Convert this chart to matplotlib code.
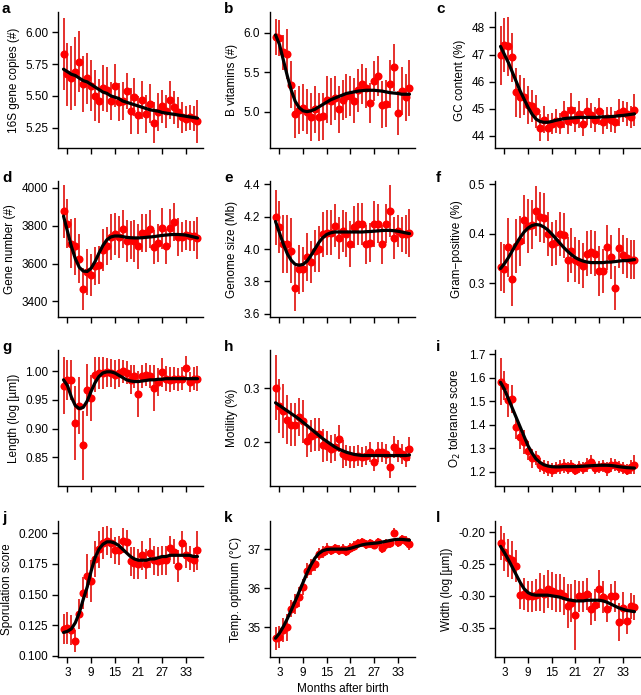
import numpy as np
import matplotlib
matplotlib.use('Agg')
import matplotlib.pyplot as plt
from matplotlib.ticker import FormatStrFormatter

plt.rcParams['font.family'] = ['Liberation Sans', 'DejaVu Sans']

# --- Data (one value per month after birth) ---
months = list(range(2, 37))
xticks = [3, 9, 15, 21, 27, 33]

# a: 16S gene copies
copies16s = [5.83, 5.67, 5.64, 5.69, 5.77, 5.59, 5.64, 5.58, 5.50, 5.46, 5.56, 5.55, 5.46, 5.58, 5.45,
             5.46, 5.54, 5.38, 5.49, 5.35, 5.47, 5.36, 5.44, 5.29, 5.37, 5.42, 5.38, 5.47, 5.41, 5.37,
             5.33, 5.32, 5.33, 5.32, 5.30]
copies16s_err = [0.28, 0.25, 0.25, 0.27, 0.24, 0.22, 0.20, 0.20, 0.20, 0.17, 0.18, 0.18, 0.15, 0.17, 0.15,
                 0.15, 0.14, 0.18, 0.15, 0.15, 0.15, 0.15, 0.15, 0.16, 0.15, 0.13, 0.13, 0.15, 0.13, 0.12,
                 0.12, 0.10, 0.10, 0.10, 0.17]
copies16s_fit = [5.71, 5.69, 5.67, 5.66, 5.64, 5.62, 5.61, 5.59, 5.57, 5.55, 5.53, 5.52, 5.50, 5.49, 5.48,
                 5.46, 5.45, 5.44, 5.43, 5.42, 5.41, 5.40, 5.39, 5.385, 5.38, 5.37, 5.365, 5.36, 5.355, 5.35,
                 5.345, 5.34, 5.335, 5.33, 5.325]

# b: B vitamins
bvit = [5.94, 5.93, 5.75, 5.73, 5.34, 4.97, 5.02, 5.05, 5.00, 4.93, 5.03, 4.93, 4.94, 5.15, 5.13,
        5.17, 5.03, 5.15, 5.20, 5.20, 5.14, 5.27, 5.35, 5.30, 5.11, 5.39, 5.45, 5.09, 5.10, 5.35,
        5.56, 4.98, 5.26, 5.18, 5.30]
bvit_err = [0.23, 0.23, 0.22, 0.32, 0.30, 0.30, 0.30, 0.30, 0.28, 0.30, 0.30, 0.30, 0.30, 0.30, 0.30,
            0.28, 0.30, 0.25, 0.28, 0.25, 0.28, 0.27, 0.25, 0.25, 0.25, 0.25, 0.25, 0.30, 0.30, 0.30,
            0.30, 0.28, 0.30, 0.30, 0.35]
bvit_fit = [5.97, 5.85, 5.65, 5.45, 5.27, 5.13, 5.05, 5.01, 5.00, 5.01, 5.03, 5.06, 5.09, 5.12, 5.15,
            5.17, 5.19, 5.21, 5.23, 5.24, 5.25, 5.26, 5.265, 5.27, 5.27, 5.27, 5.265, 5.26, 5.25, 5.24,
            5.235, 5.23, 5.22, 5.22, 5.22]

# c: GC content
gc = [46.97, 47.35, 47.30, 46.90, 45.60, 45.45, 45.45, 45.15, 45.10, 44.90, 44.30, 44.60, 44.30, 44.45, 44.55,
      44.45, 44.80, 44.55, 44.97, 44.60, 44.80, 44.45, 44.90, 44.75, 44.60, 44.90, 44.50, 44.65, 44.60, 44.50,
      44.85, 44.90, 44.80, 44.70, 44.95]
gc_err = [1.1, 1.0, 1.1, 0.9, 0.9, 0.8, 0.7, 0.7, 0.6, 0.6, 0.5, 0.5, 0.5, 0.4, 0.45,
          0.4, 0.5, 0.5, 0.6, 0.45, 0.5, 0.45, 0.5, 0.45, 0.45, 0.5, 0.45, 0.4, 0.45, 0.4,
          0.5, 0.4, 0.45, 0.4, 0.6]
gc_fit = [47.3, 47.0, 46.7, 46.35, 46.0, 45.65, 45.35, 45.05, 44.8, 44.62, 44.53, 44.5, 44.5, 44.53, 44.57,
          44.6, 44.63, 44.65, 44.66, 44.67, 44.68, 44.68, 44.68, 44.68, 44.68, 44.69, 44.7, 44.7, 44.71, 44.72,
          44.74, 44.75, 44.77, 44.79, 44.81]

# d: gene number
genes = [3875, 3810, 3705, 3690, 3625, 3465, 3555, 3540, 3585, 3590, 3670, 3690, 3740, 3755, 3740,
         3780, 3720, 3725, 3720, 3690, 3760, 3760, 3780, 3685, 3710, 3785, 3690, 3785, 3820, 3740,
         3740, 3750, 3745, 3745, 3735]
genes_err = [140, 130, 130, 150, 130, 110, 120, 110, 100, 100, 110, 100, 120, 110, 110,
             100, 110, 100, 110, 120, 100, 100, 100, 90, 100, 110, 90, 100, 100, 100,
             80, 80, 80, 80, 110]
genes_fit = [3850, 3770, 3690, 3625, 3580, 3560, 3558, 3575, 3610, 3655, 3695, 3725, 3740, 3745, 3745,
             3742, 3738, 3736, 3735, 3735, 3736, 3738, 3740, 3742, 3745, 3748, 3750, 3752, 3753, 3753,
             3752, 3750, 3745, 3740, 3735]

# e: genome size
gsize = [4.196, 4.135, 4.03, 4.03, 3.99, 3.757, 3.875, 3.875, 3.95, 3.92, 3.99, 4.00, 4.09, 4.10, 4.10,
         4.145, 4.07, 4.11, 4.09, 4.03, 4.135, 4.155, 4.155, 4.03, 4.04, 4.155, 4.155, 4.03, 4.155, 4.236,
         4.07, 4.11, 4.09, 4.09, 4.10]
gsize_err = [0.17, 0.16, 0.18, 0.18, 0.20, 0.14, 0.15, 0.14, 0.15, 0.13, 0.13, 0.14, 0.14, 0.14, 0.14,
             0.13, 0.13, 0.13, 0.14, 0.14, 0.13, 0.13, 0.13, 0.12, 0.12, 0.14, 0.12, 0.12, 0.12, 0.16,
             0.13, 0.10, 0.11, 0.12, 0.15]
gsize_fit = [4.17, 4.10, 4.03, 3.97, 3.93, 3.905, 3.90, 3.905, 3.925, 3.96, 4.00, 4.04, 4.07, 4.09, 4.10,
             4.105, 4.105, 4.105, 4.105, 4.105, 4.105, 4.105, 4.105, 4.107, 4.108, 4.11, 4.112, 4.114, 4.115, 4.115,
             4.113, 4.11, 4.105, 4.10, 4.095]

# f: Gram-positive
gram = [0.334, 0.330, 0.373, 0.309, 0.375, 0.386, 0.429, 0.416, 0.419, 0.446, 0.434, 0.432, 0.400, 0.380, 0.383,
        0.400, 0.397, 0.348, 0.366, 0.348, 0.343, 0.336, 0.360, 0.363, 0.360, 0.325, 0.325, 0.373, 0.353, 0.291,
        0.371, 0.358, 0.351, 0.348, 0.348]
gram_err = [0.05, 0.05, 0.06, 0.055, 0.055, 0.05, 0.05, 0.055, 0.05, 0.05, 0.05, 0.05, 0.045, 0.045, 0.045,
            0.045, 0.045, 0.045, 0.045, 0.045, 0.045, 0.045, 0.045, 0.045, 0.045, 0.05, 0.045, 0.045, 0.045, 0.045,
            0.04, 0.04, 0.04, 0.04, 0.04]
gram_fit = [0.330, 0.340, 0.352, 0.366, 0.380, 0.393, 0.404, 0.412, 0.417, 0.419, 0.418, 0.414, 0.408, 0.400, 0.391,
            0.382, 0.373, 0.365, 0.358, 0.352, 0.348, 0.345, 0.343, 0.342, 0.342, 0.342, 0.342, 0.343, 0.343, 0.344,
            0.345, 0.346, 0.346, 0.347, 0.348]

# g: length
length = [0.975, 0.985, 0.985, 0.910, 0.940, 0.871, 0.967, 0.954, 0.994, 0.997, 0.997, 0.998, 0.997, 0.994, 0.997,
          1.000, 0.997, 0.985, 0.991, 0.960, 0.991, 0.994, 0.991, 0.971, 0.981, 0.998, 0.987, 0.985, 0.987, 0.986,
          0.987, 1.006, 0.981, 0.987, 0.987]
length_err = [0.05, 0.035, 0.035, 0.065, 0.05, 0.06, 0.045, 0.04, 0.03, 0.028, 0.028, 0.025, 0.025, 0.025, 0.025,
              0.02, 0.02, 0.025, 0.02, 0.04, 0.02, 0.02, 0.02, 0.04, 0.025, 0.025, 0.022, 0.022, 0.02, 0.02,
              0.02, 0.02, 0.018, 0.02, 0.022]
length_fit = [0.985, 0.975, 0.955, 0.940, 0.935, 0.937, 0.948, 0.965, 0.980, 0.991, 0.997, 0.999, 0.999, 0.997, 0.993,
              0.989, 0.985, 0.983, 0.982, 0.982, 0.983, 0.984, 0.985, 0.985, 0.986, 0.986, 0.987, 0.987, 0.987, 0.987,
              0.987, 0.987, 0.987, 0.987, 0.987]

# h: motility
motility = [0.301, 0.267, 0.258, 0.242, 0.233, 0.233, 0.247, 0.239, 0.203, 0.212, 0.215, 0.215, 0.195, 0.194, 0.188,
            0.191, 0.207, 0.179, 0.176, 0.173, 0.173, 0.176, 0.173, 0.176, 0.182, 0.165, 0.182, 0.182, 0.179, 0.155,
            0.191, 0.185, 0.179, 0.173, 0.188]
motility_err = [0.06, 0.05, 0.05, 0.045, 0.04, 0.04, 0.035, 0.04, 0.03, 0.03, 0.03, 0.03, 0.03, 0.028, 0.025,
                0.025, 0.025, 0.025, 0.02, 0.02, 0.02, 0.02, 0.018, 0.018, 0.018, 0.018, 0.018, 0.018, 0.018, 0.02,
                0.02, 0.02, 0.018, 0.018, 0.022]
motility_fit = [0.273, 0.268, 0.263, 0.258, 0.253, 0.248, 0.243, 0.237, 0.231, 0.225, 0.219, 0.213, 0.207, 0.202, 0.197,
                0.192, 0.188, 0.185, 0.182, 0.180, 0.178, 0.177, 0.176, 0.176, 0.176, 0.176, 0.176, 0.176, 0.176, 0.176,
                0.176, 0.176, 0.176, 0.176, 0.177]

# i: O2 tolerance
o2tol = [1.583, 1.566, 1.503, 1.510, 1.390, 1.348, 1.327, 1.290, 1.257, 1.257, 1.228, 1.220, 1.214, 1.207, 1.217,
         1.220, 1.225, 1.215, 1.225, 1.210, 1.222, 1.218, 1.230, 1.242, 1.215, 1.220, 1.225, 1.212, 1.230, 1.228,
         1.222, 1.215, 1.210, 1.220, 1.231]
o2tol_err = [0.10, 0.06, 0.07, 0.06, 0.05, 0.05, 0.05, 0.04, 0.04, 0.03, 0.03, 0.03, 0.03, 0.03, 0.025,
             0.03, 0.03, 0.025, 0.025, 0.025, 0.025, 0.025, 0.03, 0.03, 0.025, 0.025, 0.025, 0.03, 0.03, 0.025,
             0.025, 0.025, 0.025, 0.03, 0.04]
o2tol_fit = [1.58, 1.55, 1.51, 1.47, 1.43, 1.39, 1.35, 1.31, 1.28, 1.255, 1.24, 1.23, 1.225, 1.222, 1.221,
             1.221, 1.222, 1.222, 1.222, 1.222, 1.223, 1.224, 1.225, 1.226, 1.227, 1.228, 1.228, 1.228, 1.227, 1.225,
             1.222, 1.220, 1.218, 1.217, 1.216]

# j: sporulation
spor = [0.122, 0.123, 0.121, 0.112, 0.134, 0.151, 0.165, 0.161, 0.179, 0.187, 0.192, 0.194, 0.192, 0.186, 0.186,
        0.194, 0.193, 0.177, 0.176, 0.175, 0.182, 0.175, 0.184, 0.178, 0.177, 0.178, 0.178, 0.188, 0.185, 0.173,
        0.192, 0.182, 0.180, 0.178, 0.186]
spor_err = [0.012, 0.013, 0.012, 0.009, 0.012, 0.013, 0.018, 0.017, 0.015, 0.015, 0.013, 0.012, 0.012, 0.011, 0.012,
            0.010, 0.010, 0.012, 0.013, 0.012, 0.012, 0.012, 0.012, 0.012, 0.012, 0.012, 0.012, 0.010, 0.010, 0.013,
            0.010, 0.010, 0.010, 0.010, 0.016]
spor_fit = [0.119, 0.120, 0.122, 0.127, 0.135, 0.146, 0.156, 0.169, 0.180, 0.187, 0.191, 0.193, 0.193, 0.192, 0.190,
            0.187, 0.184, 0.181, 0.179, 0.178, 0.178, 0.178, 0.179, 0.179, 0.180, 0.181, 0.181, 0.182, 0.182, 0.182,
            0.182, 0.182, 0.182, 0.181, 0.181]

# k: temperature optimum
temp = [34.72, 34.76, 34.93, 35.00, 35.48, 35.60, 35.78, 36.03, 36.45, 36.54, 36.62, 36.87, 36.92, 37.00, 36.97,
        37.02, 36.98, 37.00, 36.95, 37.03, 37.08, 37.15, 37.17, 37.12, 37.15, 37.10, 37.18, 37.02, 37.13, 37.15,
        37.42, 37.17, 37.25, 37.21, 37.13]
temp_err = [0.30, 0.28, 0.30, 0.35, 0.22, 0.25, 0.25, 0.20, 0.20, 0.20, 0.18, 0.15, 0.15, 0.15, 0.12,
            0.12, 0.12, 0.12, 0.12, 0.12, 0.12, 0.12, 0.12, 0.12, 0.12, 0.10, 0.10, 0.12, 0.12, 0.12,
            0.12, 0.12, 0.12, 0.12, 0.15]
temp_fit = [34.72, 34.85, 35.02, 35.22, 35.44, 35.67, 35.91, 36.15, 36.39, 36.60, 36.77, 36.89, 36.96, 36.99, 37.00,
            37.00, 37.00, 37.00, 37.00, 37.02, 37.05, 37.08, 37.11, 37.13, 37.14, 37.15, 37.16, 37.18, 37.20, 37.22,
            37.24, 37.25, 37.25, 37.24, 37.23]

# l: width
width = [-0.217, -0.231, -0.241, -0.244, -0.253, -0.299, -0.297, -0.301, -0.301, -0.299, -0.294, -0.297, -0.289, -0.292, -0.296,
         -0.296, -0.301, -0.316, -0.311, -0.330, -0.301, -0.301, -0.297, -0.321, -0.314, -0.289, -0.302, -0.321, -0.301, -0.301,
         -0.342, -0.319, -0.340, -0.316, -0.318]
width_err = [0.027, 0.03, 0.03, 0.03, 0.025, 0.022, 0.025, 0.025, 0.025, 0.025, 0.03, 0.03, 0.03, 0.03, 0.03,
             0.03, 0.03, 0.035, 0.03, 0.055, 0.025, 0.025, 0.025, 0.025, 0.025, 0.03, 0.025, 0.02, 0.02, 0.025,
             0.03, 0.025, 0.02, 0.02, 0.02]
width_fit = [-0.222, -0.232, -0.243, -0.255, -0.267, -0.279, -0.289, -0.295, -0.298, -0.299, -0.299, -0.299, -0.299, -0.300, -0.301,
             -0.302, -0.304, -0.306, -0.307, -0.308, -0.308, -0.308, -0.307, -0.307, -0.307, -0.307, -0.308, -0.310, -0.313, -0.316,
             -0.319, -0.321, -0.323, -0.324, -0.325]

panels = [
    ('a', '16S gene copies (#)', copies16s, copies16s_err, copies16s_fit, (5.09, 6.16), [5.25, 5.5, 5.75, 6.0], '%.2f'),
    ('b', 'B vitamins (#)', bvit, bvit_err, bvit_fit, (4.54, 6.26), [5.0, 5.5, 6.0], '%.1f'),
    ('c', 'GC content (%)', gc, gc_err, gc_fit, (43.55, 48.57), [44, 45, 46, 47, 48], '%d'),
    ('d', 'Gene number (#)', genes, genes_err, genes_fit, (3318, 4035), [3400, 3600, 3800, 4000], '%d'),
    ('e', 'Genome size (Mb)', gsize, gsize_err, gsize_fit, (3.58, 4.42), [3.6, 3.8, 4.0, 4.2, 4.4], '%.1f'),
    ('f', 'Gram\u2212positive (%)', gram, gram_err, gram_fit, (0.232, 0.507), [0.3, 0.4, 0.5], '%.1f'),
    ('g', 'Length (log [\u00b5m])', length, length_err, length_fit, (0.80, 1.037), [0.85, 0.90, 0.95, 1.00], '%.2f'),
    ('h', 'Motility (%)', motility, motility_err, motility_fit, (0.12, 0.37), [0.2, 0.3], '%.1f'),
    ('i', 'O$_2$ tolerance score', o2tol, o2tol_err, o2tol_fit, (1.14, 1.717), [1.2, 1.3, 1.4, 1.5, 1.6, 1.7], '%.1f'),
    ('j', 'Sporulation score', spor, spor_err, spor_fit, (0.099, 0.210), [0.1, 0.125, 0.15, 0.175, 0.2], '%.3f'),
    ('k', 'Temp. optimum (\u00b0C)', temp, temp_err, temp_fit, (34.24, 37.72), [35, 36, 37], '%d'),
    ('l', 'Width (log [\u00b5m])', width, width_err, width_fit, (-0.3965, -0.182), [-0.35, -0.30, -0.25, -0.20], '%.2f'),
]

# --- Layout (pixel positions of the axes) ---
W, H = 641, 695
col_left = [58, 270, 495]
row_top = [12, 181, 350, 521]
ax_w, ax_h = 145, 136
label_x = [2, 224, 436]

fig = plt.figure(figsize=(W / 100, H / 100), dpi=100)

for idx, (letter, ylabel, mean, err, fit, ylim, yt, fmt) in enumerate(panels):
    r, c = divmod(idx, 3)
    left = col_left[c] / W
    bottom = 1 - (row_top[r] + ax_h) / H
    ax = fig.add_axes([left, bottom, ax_w / W, ax_h / H])

    ax.errorbar(months, mean, yerr=err, fmt='none', ecolor='#e3201b', elinewidth=1.3, capsize=0, zorder=2)
    ax.plot(months, mean, 'o', color='#ff0000', markersize=5.8, markeredgewidth=0, zorder=3)
    ax.plot(months, fit, color='black', linewidth=2.3, solid_capstyle='round', zorder=4)

    ax.set_xlim(0.6, 37.4)
    ax.set_ylim(*ylim)
    ax.set_xticks(xticks)
    ax.set_yticks(yt)
    ax.yaxis.set_major_formatter(FormatStrFormatter(fmt))
    if r < 3:
        ax.set_xticklabels([])
    for s in ['top', 'right']:
        ax.spines[s].set_visible(False)
    for s in ['left', 'bottom']:
        ax.spines[s].set_linewidth(1.0)
    ax.tick_params(direction='out', length=4, width=1.0, labelsize=8.5, pad=3, colors='black')
    ax.set_ylabel(ylabel, fontsize=8.5, labelpad=4)
    if letter == 'k':
        ax.set_xlabel('Months after birth', fontsize=8.5, labelpad=3)

    fig.text(label_x[c] / W, 1 - (row_top[r] - 10) / H, letter, fontsize=11, fontweight='bold',
             ha='left', va='top')

fig.savefig('out.png', dpi=100)
